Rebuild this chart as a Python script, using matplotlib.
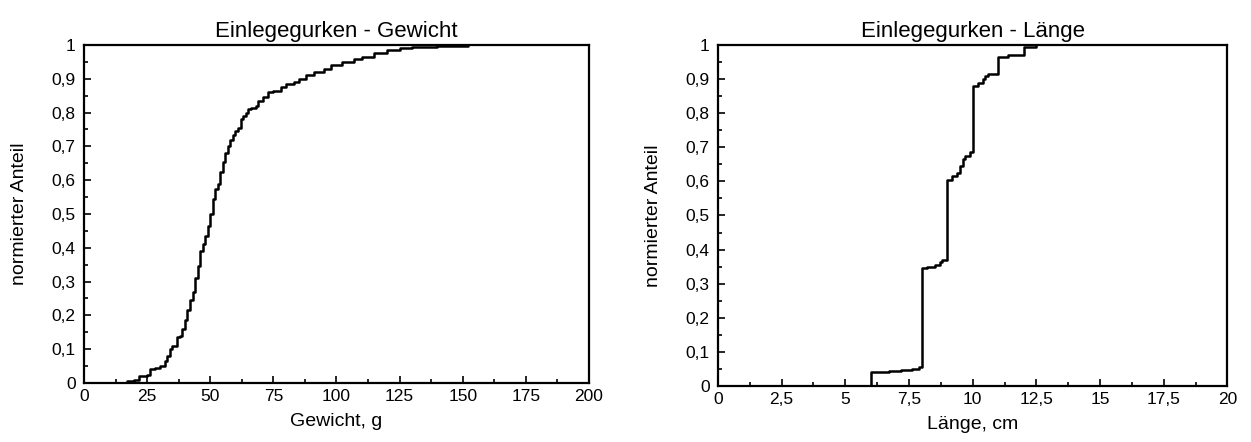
import matplotlib
matplotlib.use('Agg')
import matplotlib.pyplot as plt
from matplotlib.ticker import FuncFormatter, MultipleLocator

plt.rcParams['font.family'] = ['Liberation Sans', 'DejaVu Sans']

# cumulative share vs. weight (g)
gewicht = [13, 17, 20, 22, 25, 26, 28, 30, 32, 33, 34, 35, 37, 38, 39, 40, 41, 42, 43, 44,
           45, 46, 47, 48, 49, 50, 51, 52, 53, 54, 55, 56, 57, 58, 59, 60, 61, 62, 63, 64,
           65, 66, 68, 69, 71, 73, 75, 78, 80, 83, 85, 88, 91, 95, 98, 102, 107, 110, 115,
           120, 125, 130, 140, 152]
anteil_g = [0.0, 0.005, 0.01, 0.02, 0.025, 0.04, 0.045, 0.05, 0.065, 0.08, 0.1, 0.11, 0.135,
            0.14, 0.16, 0.185, 0.215, 0.245, 0.27, 0.31, 0.345, 0.39, 0.41, 0.435, 0.465, 0.5,
            0.545, 0.575, 0.59, 0.625, 0.655, 0.68, 0.7, 0.72, 0.735, 0.745, 0.755, 0.78, 0.79,
            0.8, 0.81, 0.813, 0.82, 0.835, 0.845, 0.86, 0.865, 0.875, 0.885, 0.89, 0.9, 0.91,
            0.92, 0.93, 0.94, 0.95, 0.96, 0.965, 0.975, 0.985, 0.99, 0.995, 0.998, 1.0]

# cumulative share vs. length (cm)
laenge = [6, 6.7, 7.2, 7.6, 7.9, 8, 8.2, 8.5, 8.7, 8.8, 9, 9.2, 9.4, 9.5, 9.6, 9.7, 9.9,
          10, 10.2, 10.4, 10.5, 10.6, 11, 11.4, 12, 12.5]
anteil_l = [0.04, 0.043, 0.047, 0.05, 0.055, 0.345, 0.35, 0.355, 0.365, 0.37, 0.605, 0.615,
            0.625, 0.645, 0.665, 0.675, 0.685, 0.88, 0.89, 0.9, 0.91, 0.915, 0.965, 0.97,
            0.995, 1.0]


def komma(v, pos):
    return ('%g' % round(v, 4)).replace('.', ',')


fig = plt.figure(figsize=(12.51, 4.42), dpi=100)
ax1 = fig.add_axes([0.0671, 0.1335, 0.4037, 0.7647])
ax2 = fig.add_axes([0.5739, 0.1267, 0.4073, 0.7715])

ax1.step([gewicht[0]] + gewicht, [0.0] + anteil_g, where='post', color='black', lw=1.8)
ax2.step([0, laenge[0]] + laenge, [0.0, 0.0] + anteil_l, where='post', color='black', lw=1.8)

for ax, title, xlabel, xmax, xmaj in [(ax1, 'Einlegegurken - Gewicht', 'Gewicht, g', 200, 25),
                                      (ax2, 'Einlegegurken - Länge', 'Länge, cm', 20, 2.5)]:
    ax.set_xlim(0, xmax)
    ax.set_ylim(0, 1)
    ax.xaxis.set_major_locator(MultipleLocator(xmaj))
    ax.xaxis.set_minor_locator(MultipleLocator(xmaj / 2))
    ax.yaxis.set_major_locator(MultipleLocator(0.1))
    ax.yaxis.set_minor_locator(MultipleLocator(0.05))
    ax.xaxis.set_major_formatter(FuncFormatter(komma))
    ax.yaxis.set_major_formatter(FuncFormatter(komma))
    ax.tick_params(which='both', direction='in', width=1.2, labelsize=12.5)
    ax.tick_params(axis='x', pad=4)
    ax.tick_params(axis='y', pad=6)
    ax.tick_params(which='major', length=5)
    ax.tick_params(which='minor', length=3)
    for s in ax.spines.values():
        s.set_linewidth(1.6)
    ax.set_title(title, fontsize=16, pad=6)
    ax.set_xlabel(xlabel, fontsize=14, labelpad=7)
    ax.set_ylabel('normierter Anteil', fontsize=14, labelpad=17)

fig.savefig('out.png', dpi=100)
